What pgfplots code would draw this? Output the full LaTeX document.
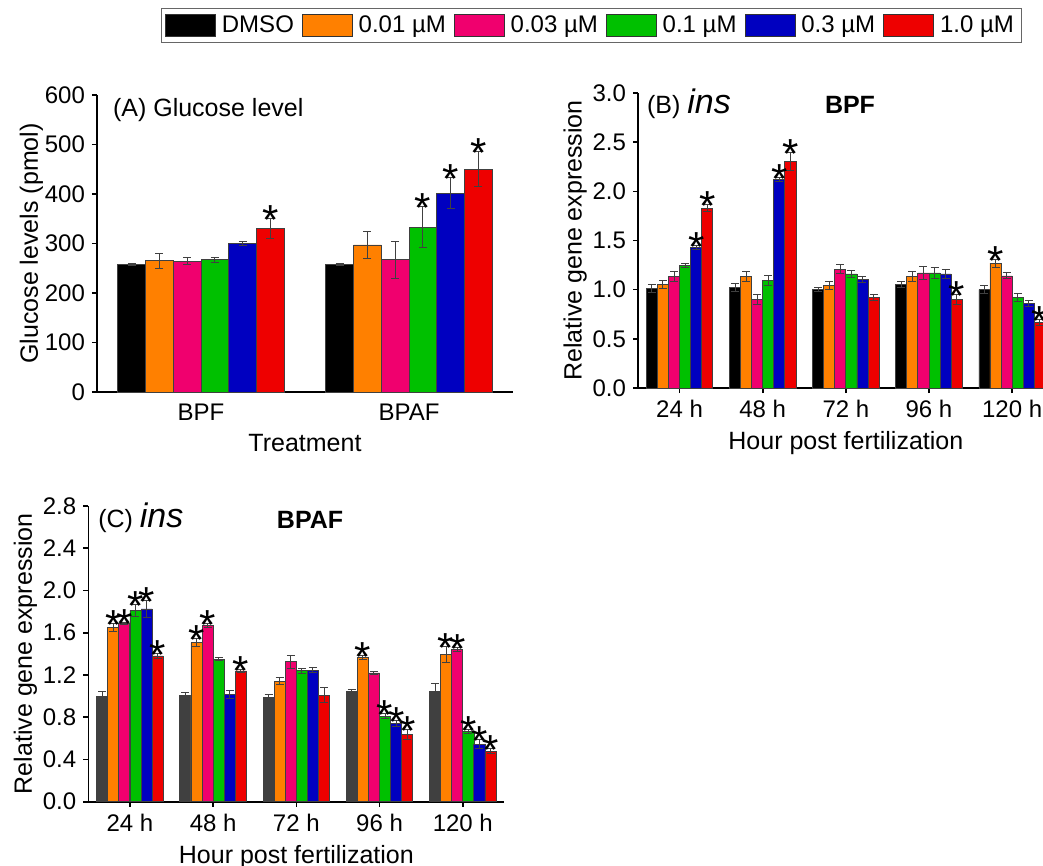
\documentclass[border=0pt]{standalone}
\usepackage{pgfplots}
\pgfplotsset{compat=1.18}
\usepackage{pgfplotstable}
\usepackage{fontspec}
\setmainfont{Liberation Sans}
\definecolor{cBk}{RGB}{0,0,0}
\definecolor{cGy}{RGB}{64,64,64}
\definecolor{cOr}{RGB}{255,128,0}
\definecolor{cPk}{RGB}{240,0,110}
\definecolor{cGr}{RGB}{0,192,0}
\definecolor{cBl}{RGB}{0,0,192}
\definecolor{cRd}{RGB}{238,0,0}

% Panel A: g y e
\pgfplotstableread{
g y e
0 258 2
1 258 2
}\Aa
\pgfplotstableread{
g y e
0 265 15
1 297 27
}\Ab
\pgfplotstableread{
g y e
0 264 7
1 267 37
}\Ac
\pgfplotstableread{
g y e
0 267 5
1 333 41
}\Ad
\pgfplotstableread{
g y e
0 300 4
1 402 32
}\Ae
\pgfplotstableread{
g y e
0 331 20
1 450 35
}\Af

% Panel B
\pgfplotstableread{
g y e
0 1.01 0.04
1 1.02 0.04
2 1.00 0.02
3 1.05 0.03
4 1.00 0.04
}\Ba
\pgfplotstableread{
g y e
0 1.05 0.04
1 1.13 0.05
2 1.04 0.04
3 1.13 0.05
4 1.27 0.04
}\Bb
\pgfplotstableread{
g y e
0 1.13 0.05
1 0.90 0.05
2 1.21 0.05
3 1.17 0.07
4 1.14 0.03
}\Bc
\pgfplotstableread{
g y e
0 1.25 0.02
1 1.09 0.05
2 1.16 0.04
3 1.17 0.06
4 0.92 0.04
}\Bd
\pgfplotstableread{
g y e
0 1.43 0.02
1 2.12 0.02
2 1.10 0.03
3 1.16 0.05
4 0.86 0.03
}\Be
\pgfplotstableread{
g y e
0 1.83 0.04
1 2.30 0.09
2 0.92 0.03
3 0.90 0.05
4 0.67 0.03
}\Bf

% Panel C
\pgfplotstableread{
g y e
0 1.00 0.04
1 1.01 0.02
2 0.99 0.025
3 1.045 0.02
4 1.045 0.07
}\Ca
\pgfplotstableread{
g y e
0 1.65 0.04
1 1.506 0.04
2 1.143 0.035
3 1.367 0.02
4 1.392 0.075
}\Cb
\pgfplotstableread{
g y e
0 1.689 0.01
1 1.667 0.02
2 1.326 0.06
3 1.219 0.01
4 1.443 0.02
}\Cc
\pgfplotstableread{
g y e
0 1.812 0.06
1 1.351 0.01
2 1.241 0.025
3 0.811 0.02
4 0.667 0.02
}\Cd
\pgfplotstableread{
g y e
0 1.825 0.08
1 1.017 0.04
2 1.247 0.025
3 0.742 0.03
4 0.546 0.045
}\Ce
\pgfplotstableread{
g y e
0 1.38 0.025
1 1.238 0.015
2 1.007 0.07
3 0.638 0.05
4 0.48 0.02
}\Cf

% asterisk positions (x = group + bar offset, y = top of error bar)
\pgfplotstableread{
x y
0.333 351
1.067 374
1.200 434
1.333 485
}\Astar
\pgfplotstableread{
x y
0.200 1.45
0.333 1.87
1.200 2.14
1.333 2.39
3.333 0.95
3.800 1.31
4.333 0.70
}\Bstar
\pgfplotstableread{
x y
-0.200 1.69
-0.067 1.70
0.067 1.872
0.200 1.905
0.333 1.405
0.800 1.546
0.933 1.687
1.333 1.253
2.800 1.387
3.067 0.831
3.200 0.772
3.333 0.688
3.800 1.467
3.933 1.463
4.067 0.687
4.200 0.591
4.333 0.50
}\Cstar

\pgfplotsset{
  panel/.style={
    scale only axis, anchor=south west,
    axis x line*=bottom, axis y line*=left,
    axis line style={line width=0.8pt, -},
    tick align=outside, major tick length=2.5pt,
    tick style={line width=0.8pt, black},
    tick label style={font=\fontsize{12}{14}\selectfont},
    label style={font=\fontsize{12.5}{14}\selectfont},
    /pgf/number format/assume math mode=true,
    clip=false,
  },
  bars/.style={ybar, bar shift=0pt, bar width=0.1332, draw=black!75, line width=0.4pt, fill=#1,
    error bars/.cd, y dir=both, y explicit,
    error bar style={line width=0.5pt, black!75},
    error mark options={rotate=90, mark size=2pt, line width=0.5pt, black!75}},
  stars/.style={forget plot, only marks, mark=text, text mark={*}, text mark as node=true,
    text mark style={font=\fontsize{21}{21}\selectfont, anchor=base, yshift=-8pt, inner sep=0pt}},
}

\begin{document}
\begin{tikzpicture}
\useasboundingbox (0,0) rectangle (521.5pt,-433pt);
\clip (0,0) rectangle (521.5pt,-433pt);

% ---------------- Panel A
\begin{axis}[panel,
  at={(48.5pt,-196pt)}, width=208pt, height=148.5pt,
  xmin=-0.5, xmax=1.5, ymin=0, ymax=600,
  xtick={0,1}, xticklabels={BPF,BPAF}, xtick style={draw=none},
  ytick={0,100,...,600},
  xlabel={Treatment}, ylabel={Glucose levels (pmol)},
  ylabel shift=-6pt,
  legend columns=6,
  legend style={at={(1.1887,1.234)}, anchor=center, draw=black!60, line width=0.5pt,
    font=\fontsize{12}{14}\selectfont, inner xsep=2pt, inner ysep=1.5pt,
    /tikz/every even column/.append style={column sep=2pt},
    /tikz/every odd column/.append style={column sep=1pt}},
  legend image code/.code={\draw[#1, draw=black!80, line width=0.4pt] (0pt,-5.5pt) rectangle (25pt,5.5pt);},
]
\addplot[bars=cBk] table[x expr=\thisrow{g}-0.333, y=y, y error=e]{\Aa};
\addplot[bars=cOr] table[x expr=\thisrow{g}-0.200, y=y, y error=e]{\Ab};
\addplot[bars=cPk] table[x expr=\thisrow{g}-0.067, y=y, y error=e]{\Ac};
\addplot[bars=cGr] table[x expr=\thisrow{g}+0.067, y=y, y error=e]{\Ad};
\addplot[bars=cBl] table[x expr=\thisrow{g}+0.200, y=y, y error=e]{\Ae};
\addplot[bars=cRd] table[x expr=\thisrow{g}+0.333, y=y, y error=e]{\Af};
\addplot[stars] table[x=x, y=y]{\Astar};
\legend{DMSO, 0.01 µM, 0.03 µM, 0.1 µM, 0.3 µM, 1.0 µM}
\node[anchor=base west, font=\fontsize{12.5}{14}\selectfont] at (rel axis cs:0.0216,0.927) {(A) Glucose level};
\end{axis}

% ---------------- Panel B
\begin{axis}[panel,
  at={(319pt,-194pt)}, width=207.85pt, height=147.5pt,
  xmin=-0.5, xmax=4.5, ymin=0, ymax=3,
  xtick={0,1,2,3,4}, xticklabels={24 h,48 h,72 h,96 h,120 h},
  ytick={0,0.5,...,3},
  yticklabel style={/pgf/number format/.cd, fixed, fixed zerofill, precision=1},
  xlabel={Hour post fertilization}, ylabel={Relative gene expression},
  ylabel shift=-4pt,
]
\addplot[bars=cBk] table[x expr=\thisrow{g}-0.333, y=y, y error=e]{\Ba};
\addplot[bars=cOr] table[x expr=\thisrow{g}-0.200, y=y, y error=e]{\Bb};
\addplot[bars=cPk] table[x expr=\thisrow{g}-0.067, y=y, y error=e]{\Bc};
\addplot[bars=cGr] table[x expr=\thisrow{g}+0.067, y=y, y error=e]{\Bd};
\addplot[bars=cBl] table[x expr=\thisrow{g}+0.200, y=y, y error=e]{\Be};
\addplot[bars=cRd] table[x expr=\thisrow{g}+0.333, y=y, y error=e]{\Bf};
\addplot[stars] table[x=x, y=y]{\Bstar};
\node[anchor=base west, font=\fontsize{12.5}{14}\selectfont] at (rel axis cs:0.005,0.932) {(B) {\itshape\fontsize{17}{17}\selectfont ins}};
\node[anchor=base, font=\fontsize{12.5}{14}\selectfont\bfseries] at (rel axis cs:0.51,0.932) {BPF};
\end{axis}

% ---------------- Panel C
\begin{axis}[panel,
  at={(44.15pt,-400.85pt)}, width=208.05pt, height=147.85pt,
  xmin=-0.5, xmax=4.5, ymin=0, ymax=2.8,
  xtick={0,1,2,3,4}, xticklabels={24 h,48 h,72 h,96 h,120 h},
  ytick={0,0.4,0.8,1.2,1.6,2.0,2.4,2.8},
  yticklabel style={/pgf/number format/.cd, fixed, fixed zerofill, precision=1},
  xlabel={Hour post fertilization}, ylabel={Relative gene expression},
  ylabel shift=-4pt,
]
\addplot[bars=cGy] table[x expr=\thisrow{g}-0.333, y=y, y error=e]{\Ca};
\addplot[bars=cOr] table[x expr=\thisrow{g}-0.200, y=y, y error=e]{\Cb};
\addplot[bars=cPk] table[x expr=\thisrow{g}-0.067, y=y, y error=e]{\Cc};
\addplot[bars=cGr] table[x expr=\thisrow{g}+0.067, y=y, y error=e]{\Cd};
\addplot[bars=cBl] table[x expr=\thisrow{g}+0.200, y=y, y error=e]{\Ce};
\addplot[bars=cRd] table[x expr=\thisrow{g}+0.333, y=y, y error=e]{\Cf};
\addplot[stars] table[x=x, y=y]{\Cstar};
\node[anchor=base west, font=\fontsize{12.5}{14}\selectfont] at (rel axis cs:0.007,0.928) {(C) {\itshape\fontsize{17}{17}\selectfont ins}};
\node[anchor=base, font=\fontsize{12.5}{14}\selectfont\bfseries] at (rel axis cs:0.533,0.925) {BPAF};
\end{axis}
\end{tikzpicture}
\end{document}
